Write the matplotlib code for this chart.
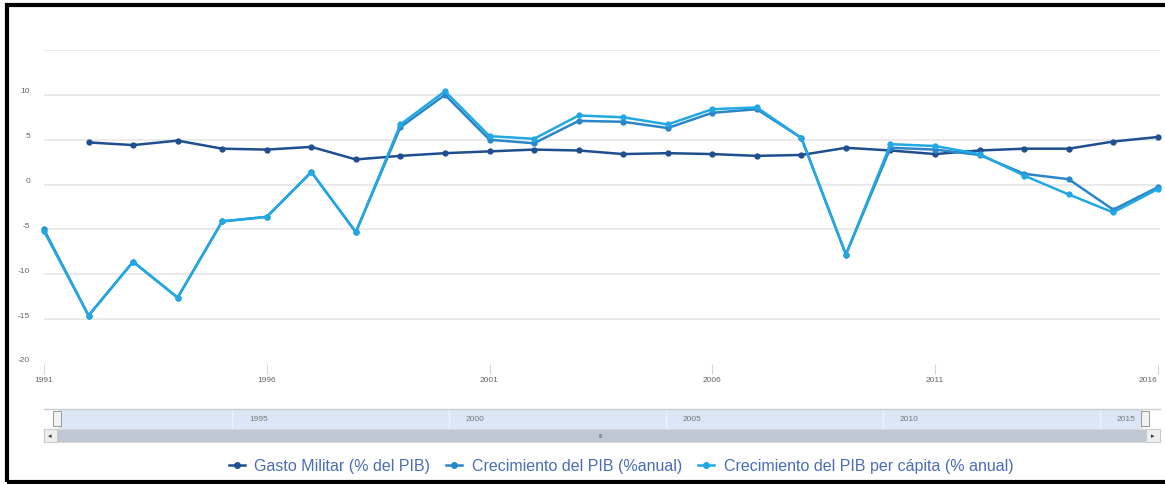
import numpy as np
import matplotlib.pyplot as plt
from matplotlib.lines import Line2D
from matplotlib.patches import Rectangle
import matplotlib.transforms as mtransforms

years = list(range(1991, 2017))
gasto_years = list(range(1992, 2017))
gasto_militar = [4.7, 4.4, 4.9, 4.0, 3.9, 4.2, 2.8, 3.2, 3.5, 3.7, 3.9, 3.8, 3.4,
                 3.5, 3.4, 3.2, 3.3, 4.1, 3.8, 3.4, 3.8, 4.0, 4.0, 4.8, 5.3]
crec_pib = [-5.0, -14.6, -8.6, -12.6, -4.1, -3.6, 1.4, -5.3, 6.4, 10.0, 5.0, 4.6, 7.1,
            7.0, 6.3, 8.0, 8.4, 5.2, -7.8, 4.1, 3.9, 3.3, 1.2, 0.6, -2.8, -0.3]
crec_pib_pc = [-5.2, -14.6, -8.6, -12.6, -4.1, -3.6, 1.4, -5.3, 6.7, 10.4, 5.4, 5.1, 7.7,
               7.5, 6.7, 8.4, 8.6, 5.2, -7.8, 4.5, 4.3, 3.4, 1.0, -1.1, -3.1, -0.5]
labels = ["Gasto Militar (% del PIB)", "Crecimiento del PIB (%anual)",
          "Crecimiento del PIB per cápita (% anual)"]
colors = ["#1f4f8f", "#2a86c8", "#22a8e2"]
x_ticks = [1991, 1996, 2001, 2006, 2011, 2016]
y_ticks = [-20, -15, -10, -5, 0, 5, 10, 15]
nav_ticks = [1995, 2000, 2005, 2010, 2015]

W, H = 1165, 485
fig = plt.figure(figsize=(W / 100, H / 100), dpi=100)
plt.rcParams['font.family'] = ['Liberation Sans', 'DejaVu Sans']


def px(x0, y0, x1, y1):
    return [x0 / W, 1 - y1 / H, (x1 - x0) / W, (y1 - y0) / H]


ax = fig.add_axes(px(44, 51, 1160, 365))
ax.set_xlim(1991, 2016.05)
ax.set_ylim(-20, 15)
for s in ax.spines.values():
    s.set_visible(False)

ax.set_yticks(y_ticks)
ax.set_yticklabels([str(v) if v != 15 else "" for v in y_ticks])
ax.grid(axis="y", color="#e6e6e6", lw=1.2)
ax.get_ygridlines()[0].set_visible(False)
ax.tick_params(axis="y", length=0, labelsize=6, labelcolor="#666666", pad=10)
offset = mtransforms.ScaledTranslation(0, 5 / 100, fig.dpi_scale_trans)
for lab in ax.get_yticklabels():
    lab.set_transform(lab.get_transform() + offset)

ax.set_xticks(x_ticks)
ax.tick_params(axis="x", length=7, color="#ccd6eb", labelsize=6,
               labelcolor="#666666", pad=2)
ax.get_xticklabels()[-1].set_horizontalalignment("right")

ax.plot(gasto_years, gasto_militar, color=colors[0], lw=1.8, marker="o", ms=3.5, clip_on=False, zorder=3)
ax.plot(years, crec_pib, color=colors[1], lw=1.8, marker="o", ms=3.5, clip_on=False, zorder=4)
ax.plot(years, crec_pib_pc, color=colors[2], lw=1.8, marker="o", ms=3.5, clip_on=False, zorder=5)

# navigator
nav = fig.add_axes(px(58, 410, 1143, 430))
nav.set_xlim(1991, 2016)
nav.set_ylim(0, 1)
nav.set_facecolor("#dbe7f7")
for s in nav.spines.values():
    s.set_visible(False)
nav.set_yticks([])
nav.set_xticks(nav_ticks)
nav.set_xticklabels([])
nav.tick_params(axis="x", length=0)
nav.grid(axis="x", color="#eef2f8", lw=1)
for t in nav_ticks:
    nav.text(t + 0.4, 0.5, str(t), fontsize=6, color="#777777", va="center")

fig.add_artist(Line2D([44 / W, 1160 / W], [1 - 410 / H] * 2, color="#cccccc", lw=1))
# scrollbar
fig.add_artist(Rectangle((44 / W, 1 - 443 / H), 1116 / W, 13 / H, facecolor="#bfc8d2",
                         edgecolor="#d8d8d8", lw=0.8))
fig.add_artist(Rectangle((44 / W, 1 - 443 / H), 13 / W, 13 / H, facecolor="#eeeeee",
                         edgecolor="#cccccc", lw=0.8))
fig.add_artist(Rectangle((1146 / W, 1 - 443 / H), 14 / W, 13 / H, facecolor="#eeeeee",
                         edgecolor="#cccccc", lw=0.8))
fig.text(50 / W, 1 - 437 / H, "◂", fontsize=5, color="#333333", ha="center", va="center")
fig.text(1153 / W, 1 - 437 / H, "▸", fontsize=5, color="#333333", ha="center", va="center")
fig.text(601 / W, 1 - 437 / H, "III", fontsize=4, color="#666666", ha="center", va="center")
# handles
for hx in (57, 1145):
    fig.add_artist(Rectangle(((hx - 4) / W, 1 - 427 / H), 8 / W, 15 / H, facecolor="#f2f2f2",
                             edgecolor="#999999", lw=0.7))

handles = [Line2D([], [], color=c, lw=1.8, marker="o", ms=4) for c in colors]
leg = fig.legend(handles, labels, loc="center", bbox_to_anchor=(621 / W, 1 - 467 / H), ncol=3,
                 frameon=False, fontsize=11.5, handlelength=1.0, handletextpad=0.6,
                 columnspacing=1.0)
for t in leg.get_texts():
    t.set_color("#4a6db5")

# outer frame
fig.add_artist(Rectangle((7 / W, 1 - 483 / H), 1170 / W, 477 / H, facecolor="none",
                         edgecolor="black", lw=3))

fig.savefig("out.png", dpi=100)
